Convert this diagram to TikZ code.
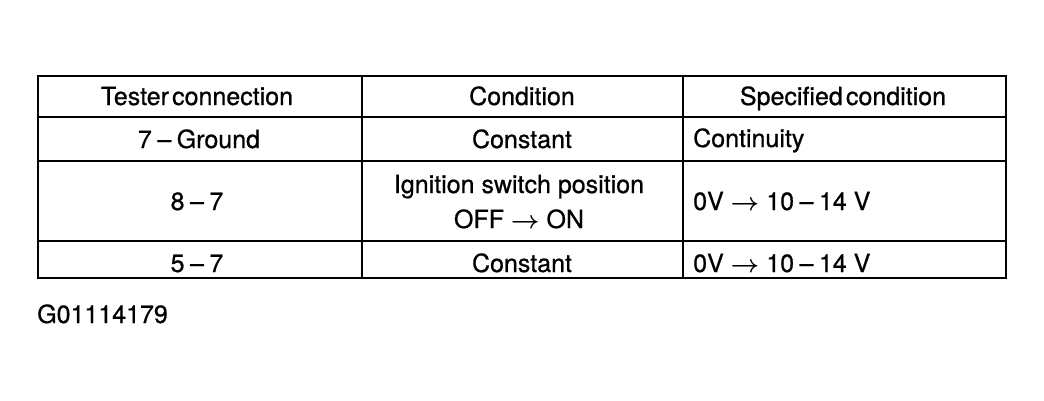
\documentclass[tikz,border=0pt]{standalone}
\usepackage{amsmath}
\usepackage{fontspec}
\setmainfont{TeX Gyre Heros}
\newfontfamily\tabfont{TeX Gyre Heros}[FakeBold=0.7,Ligatures=TeX]
\usetikzlibrary{positioning,calc}
\tikzset{
  % lines
	csttab/.style      ={line width=2.6pt}, % outer frame
	cstrule/.style     ={line width=2pt}, % inner rules
  % text
	csttext/.style     ={inner sep=0pt,anchor=base,text=black,font=\tabfont\fontsize{25}{30}\selectfont},
	csttextl/.style    ={csttext,anchor=base west},
	cstid/.style       ={csttext,anchor=base west}
}
\newcommand{\cstto}{$\boldsymbol{\rightarrow}$}
\newcommand{\cstdash}{\hspace{0.22em}\textendash\hspace{0.22em}}
\begin{document}
\begin{tikzpicture}[x=1pt,y=-1pt]
			\useasboundingbox (0,0) rectangle (1044,400);
			% frame and rules
			\coordinate (TL) at (38,76);
			\coordinate (BR) at (1006,278);
			\draw[csttab] (TL) rectangle (BR);
			\draw[cstrule] (38,117)--(1006,117);
			\draw[cstrule] (38,161)--(1006,161);
			\draw[cstrule] (38,241)--(1006,241);
			\draw[cstrule] (362,76)--(362,278);
			\draw[cstrule] (683,76)--(683,278);
			% header
			\node[csttext] (hTester) at (197,105) {Tester\hspace{-0.15em} connection};
			\node[csttext] (hCond) at (522,105) {Condition};
			\node[csttext] (hSpec) at (843,105) {Specified\hspace{-0.15em} condition};
			% row 1
			\node[csttext] (tGround) at (199,148) {7\cstdash Ground};
			\node[csttext] (cConst1) at (522,148) {Constant};
			\node[csttextl] (sCont) at (693,147) {Continuity};
			% row 2
			\node[csttext] (tEight) at (197,210) {8\cstdash 7};
			\node[csttext] (cIgn) at (519,193) {Ignition switch position};
			\node[csttext] (cOffOn) at (519,228) {OFF \cstto{} ON};
			\node[csttextl] (sVolt1) at (693,210) {0V \cstto{} 10\cstdash 14 V};
			% row 3
			\node[csttext] (tFive) at (197,272) {5\cstdash 7};
			\node[csttext] (cConst2) at (522,272) {Constant};
			\node[csttextl] (sVolt2) at (693,272) {0V \cstto{} 10\cstdash 14 V};
			% figure id
			\node[cstid] (figid) at (37,323) {G01114179};
		\end{tikzpicture}
\end{document}
